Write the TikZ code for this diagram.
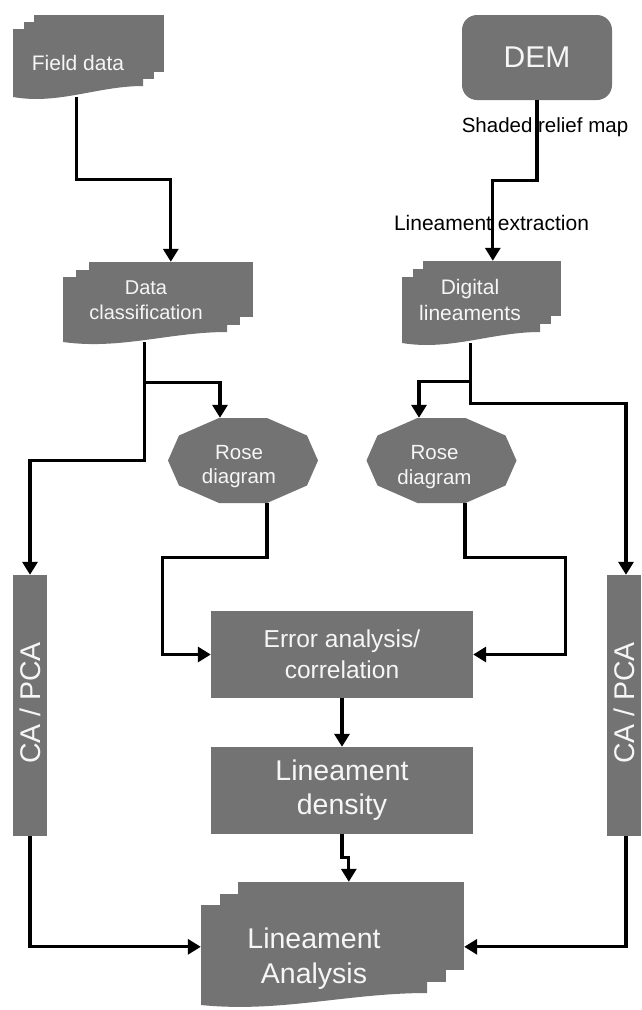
\documentclass[tikz,border=0pt]{standalone}
\usepackage{fontspec}
\setmainfont{Liberation Sans}
\usetikzlibrary{arrows.meta,calc,fit}
\definecolor{boxgray}{RGB}{115,115,115}
\definecolor{boxtext}{RGB}{246,246,246}
% multidocument shape: name, left, top (front doc), width, height, dx, dy, wave depth
\newcommand\mdoc[8]{%
 \fill[boxgray] ({#2+2*#6},{#3-2*#7}) rectangle ++(#4,#5);
 \fill[boxgray] ({#2+#6},{#3-#7}) rectangle ++(#4,#5);
 \fill[boxgray] (#2,#3) -- ({#2+#4},#3) -- ({#2+#4},{#3+#5})
   .. controls ({#2+0.65*#4},{#3+#5}) and ({#2+0.35*#4},{#3+#5+#8+8}) .. (#2,{#3+#5+#8}) -- cycle;
 \node[fit={({#2},{#3-2*#7}) ({#2+#4+2*#6},{#3+#5+#8})}, inner sep=0pt] (#1) {};
}
\newcommand\rosefill[1]{%
 \fill[boxgray, shift={(#1.center)}] (-24,-42.5) -- (24,-42.5) -- (64,-25) -- (75,0) -- (64,25)
   -- (24,42.5) -- (-24,42.5) -- (-64,25) -- (-75,0) -- (-64,-25) -- cycle;
}
\tikzset{
 conn/.style={line width=3.2pt, -{Triangle[length=13pt,width=15pt]}},
 gbox/.style={fill=boxgray, text=boxtext, inner sep=0pt, align=center},
 intext/.style={text=boxtext, inner sep=0pt, align=center},
 plain/.style={inner sep=0pt, text=black},
}
\begin{document}
\begin{tikzpicture}[x=1pt,y=-1pt]
\useasboundingbox (0,0) rectangle (641,1010);
% multidocument shapes
\mdoc{fd}{13}{29}{130}{57}{10.5}{7}{11}
\node[intext, font=\fontsize{21}{25}\selectfont] (fdt) at (78,63.4) {Field data};
\mdoc{dc}{63}{277}{164}{55}{13}{7.5}{10}
\node[intext, font=\fontsize{20}{25}\selectfont] (dct) at (146,300.3) {Data\\classification};
\mdoc{dl}{402}{277}{138}{55}{10.5}{8}{11}
\node[intext, font=\fontsize{21}{26}\selectfont] (dlt) at (470,300.4) {Digital\\lineaments};
\mdoc{la}{201}{905}{226}{88}{18.5}{11.5}{12}
\node[intext, font=\fontsize{28.5}{35}\selectfont] (lat) at (314,959) {Lineament\\Analysis};
% DEM
\node[gbox, rounded corners=15pt, minimum width=150pt, minimum height=85pt,
      font=\fontsize{30}{36}\selectfont] (dem) at (537,57.5) {DEM};
\node[plain, font=\fontsize{20.5}{25}\selectfont] (srm) at (545,126.7) {Shaded relief map};
\node[plain, font=\fontsize{21}{25}\selectfont] (lex) at (491.5,222.5) {Lineament extraction};
% rose diagrams
\node[minimum width=150pt, minimum height=85pt, inner sep=0pt] (rosel) at (243,460.5) {};
\rosefill{rosel}
\node[intext, font=\fontsize{20.5}{24}\selectfont] (roselt) at (239,466.3) {Rose\\diagram};
\node[minimum width=150pt, minimum height=85pt, inner sep=0pt] (roser) at (441.5,460.5) {};
\rosefill{roser}
\node[intext, font=\fontsize{20.5}{25}\selectfont] (rosert) at (434.5,467.2) {Rose\\diagram};
% CA / PCA bars
\node[gbox, minimum width=34pt, minimum height=261pt] (cal) at (30,705.5) {};
\node[intext, rotate=90, font=\fontsize{28.5}{34}\selectfont] (calt) at (30.5,703) {CA / PCA};
\node[gbox, minimum width=34pt, minimum height=261pt] (car) at (624,705.5) {};
\node[intext, rotate=90, font=\fontsize{28.5}{34}\selectfont] (cart) at (624.5,703) {CA / PCA};
% central boxes
\node[gbox, minimum width=262pt, minimum height=87pt, font=\fontsize{24.5}{31}\selectfont]
  (err) at (342,654.5) {Error analysis/\\correlation};
\node[gbox, minimum width=262pt, minimum height=87pt, font=\fontsize{28.5}{34}\selectfont]
  (den) at (342,790.5) {Lineament\\density};
% connectors
\draw[conn] ($(fd.south west)+(64,0)$) -- ++(0,82) -| ($(dc.north west)+(108,0)$);
\draw[conn] (dem.south) -- ++(0,80) -| ($(dl.north west)+(91,0)$);
\draw[conn] ($(dc.south west)+(82,0)$) -- ++(0,118) -| (cal.north);
\draw[conn] ($(dc.south west)+(82,40)$) -| ($(rosel.north)+(-23,0)$);
\draw[conn] ($(dl.south west)+(69,0)$) -- ++(0,60) -| ($(car.north)+(2,0)$);
\draw[conn] ($(dl.south west)+(69,38)$) -| ($(roser.north)+(-22.5,0)$);
\draw[conn] ($(rosel.south)+(24,0)$) -- ++(0,54) -| ($(err.west)+(-48,0)$) -- (err.west);
\draw[conn] ($(roser.south)+(23.5,0)$) -- ++(0,54) -| ($(err.east)+(92,0)$) -- (err.east);
\draw[conn] (err.south) -- (den.north);
\draw[conn] (den.south) -- ++(0,23) -| ($(la.north west)+(148,0)$);
\draw[conn] (cal.south) |- ($(la.north west)+(0,65)$);
\draw[conn] ($(car.south)+(2,0)$) |- ($(la.north east)+(0,65)$);
\end{tikzpicture}
\end{document}
